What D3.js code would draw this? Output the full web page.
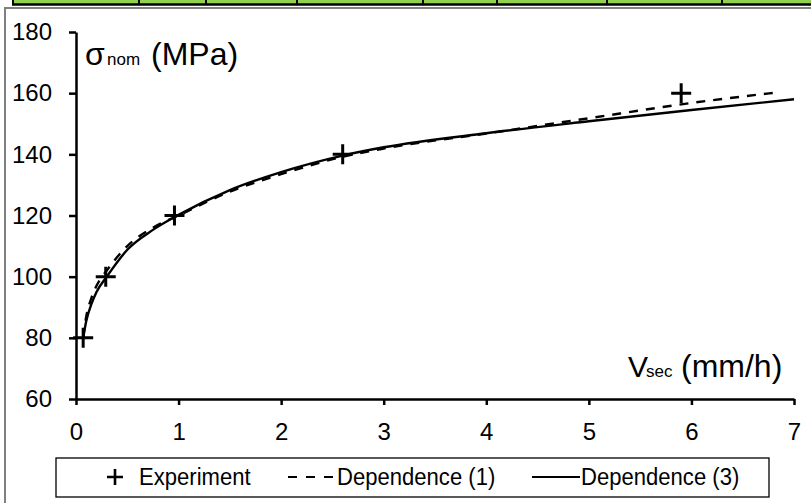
<!DOCTYPE html>
<html>
<head>
<meta charset="utf-8">
<script src="https://cdn.jsdelivr.net/npm/d3@7"></script>
<style>
  body { margin: 0; background: #fff; }
  svg { display: block; font-family: "Liberation Sans", Arial, sans-serif; }
</style>
</head>
<body>
<svg id="chart"></svg>
<script>
// Experiment points
const expV = [0.07, 0.29, 0.96, 2.6, 5.9];
const expS = [80, 100, 120, 140, 160];

// Dependence (1), dashed curve
const dep1V = [0.07, 0.1, 0.15, 0.2, 0.3, 0.5, 0.75, 1, 1.5, 2, 2.6, 3, 4, 5, 6, 6.8];
const dep1S = [80, 87, 93, 97, 102, 110, 116, 120, 127.8, 133.5, 139.2, 141.9, 146.8, 151.8, 156.8, 160.1];

// Dependence (3), solid curve
const dep3V = [0.07, 0.1, 0.15, 0.2, 0.3, 0.5, 0.75, 1, 1.5, 2, 2.6, 3, 4, 5, 6, 7];
const dep3S = [80, 85.5, 91, 95, 100, 108.8, 115.3, 120.2, 128.3, 134.2, 139.6, 142.3, 146.9, 150.8, 154.5, 158];

const xTicks = [0, 1, 2, 3, 4, 5, 6, 7];
const yTicks = [60, 80, 100, 120, 140, 160, 180];
const legendLabels = ["Experiment", "Dependence (1)", "Dependence (3)"];

const dims = { width: 811, height: 503 };

const svg = d3.select("#chart")
    .attr("width", dims.width)
    .attr("height", dims.height);

// green table strip at the very top (page context around the chart)
const stripCols = [13, 139, 206, 297, 423, 497, 607, 722];
svg.append("rect")
    .attr("x", 13).attr("y", 0)
    .attr("width", dims.width - 13).attr("height", 4)
    .attr("fill", "#92d050");
svg.append("line")
    .attr("x1", 12).attr("x2", dims.width)
    .attr("y1", 4.5).attr("y2", 4.5)
    .attr("stroke", "#000").attr("stroke-width", 2.5);
stripCols.forEach(cx => {
    svg.append("line")
        .attr("x1", cx).attr("x2", cx)
        .attr("y1", 0).attr("y2", 5)
        .attr("stroke", "#000").attr("stroke-width", 2);
});

// chart frame (gray, only top and left are visible)
svg.append("path")
    .attr("d", `M5,${dims.height} L5,8 L${dims.width},8`)
    .attr("fill", "none")
    .attr("stroke", "#808080")
    .attr("stroke-width", 2);

// scales
let x = d3.scaleLinear().domain([0, 7]).range([76, 794]);
let y = d3.scaleLinear().domain([60, 180]).range([399, 32]);

// shared tick styling
let styleTicks = g => g
    .call(g => g.select(".domain").attr("stroke-width", 2.5))
    .call(g => g.selectAll(".tick line").attr("stroke-width", 2.5))
    .call(g => g.selectAll(".tick text")
        .attr("font-size", 24)
        .attr("font-family", "Liberation Sans, Arial, sans-serif")
        .attr("fill", "#000"));

// y axis
let yAxis = g => g
    .attr("transform", `translate(${x(0)},0)`)
    .call(d3.axisLeft(y).tickValues(yTicks).tickFormat(d3.format("d"))
        .tickSize(7).tickSizeOuter(0).tickPadding(17))
    .call(styleTicks);

// x axis
let xAxis = g => g
    .attr("transform", `translate(0,${y(60)})`)
    .call(d3.axisBottom(x).tickValues(xTicks).tickFormat(d3.format("d"))
        .tickSize(6).tickSizeOuter(0).tickPadding(18))
    .call(styleTicks);

svg.append("g").call(yAxis);
svg.append("g").call(xAxis);

// curves
let line = d3.line()
    .x(d => x(d[0]))
    .y(d => y(d[1]))
    .curve(d3.curveMonotoneX);

svg.append("path")
    .datum(d3.zip(dep3V, dep3S))
    .attr("fill", "none")
    .attr("stroke", "#000")
    .attr("stroke-width", 2.4)
    .attr("d", line);

svg.append("path")
    .datum(d3.zip(dep1V, dep1S))
    .attr("fill", "none")
    .attr("stroke", "#000")
    .attr("stroke-width", 2.4)
    .attr("stroke-dasharray", "9,8")
    .attr("d", line);

// experiment crosses
const arm = 10;
svg.append("g").selectAll("path")
    .data(d3.zip(expV, expS))
    .join("path")
    .attr("d", d => `M${x(d[0]) - arm},${y(d[1])}h${2 * arm}M${x(d[0])},${y(d[1]) - arm}v${2 * arm}`)
    .attr("stroke", "#000")
    .attr("stroke-width", 3);

// axis titles
let yTitle = svg.append("text")
    .attr("y", 65)
    .attr("fill", "#000");
yTitle.append("tspan").attr("x", 85).attr("font-size", 32).text("σ");
yTitle.append("tspan").attr("x", 107).attr("font-size", 17).text("nom");
yTitle.append("tspan").attr("x", 151).attr("font-size", 32).text("(MPa)");

let xTitle = svg.append("text")
    .attr("y", 377)
    .attr("fill", "#000");
xTitle.append("tspan").attr("x", 628).attr("font-size", 30).text("V");
xTitle.append("tspan").attr("x", 646).attr("font-size", 17).text("sec");
xTitle.append("tspan").attr("x", 681).attr("font-size", 32).text("(mm/h)");

// legend
let legend = svg.append("g");
legend.append("rect")
    .attr("x", 56).attr("y", 458)
    .attr("width", 713).attr("height", 39)
    .attr("fill", "#fff")
    .attr("stroke", "#000")
    .attr("stroke-width", 1.3);

const ly = 477;
legend.append("path")
    .attr("d", `M107,${ly}h16M115,${ly - 8}v16`)
    .attr("stroke", "#000")
    .attr("stroke-width", 2.6);
legend.append("line")
    .attr("x1", 288).attr("x2", 335)
    .attr("y1", ly).attr("y2", ly)
    .attr("stroke", "#000").attr("stroke-width", 2.2)
    .attr("stroke-dasharray", "9,9");
legend.append("line")
    .attr("x1", 532).attr("x2", 580)
    .attr("y1", ly).attr("y2", ly)
    .attr("stroke", "#000").attr("stroke-width", 2.2);

const legendX = [139, 337, 581];
legendLabels.forEach((lab, i) => {
    legend.append("text")
        .attr("transform", `translate(${legendX[i]},485) scale(0.92,1)`)
        .attr("font-size", 24)
        .attr("fill", "#000")
        .text(lab);
});
</script>
</body>
</html>
